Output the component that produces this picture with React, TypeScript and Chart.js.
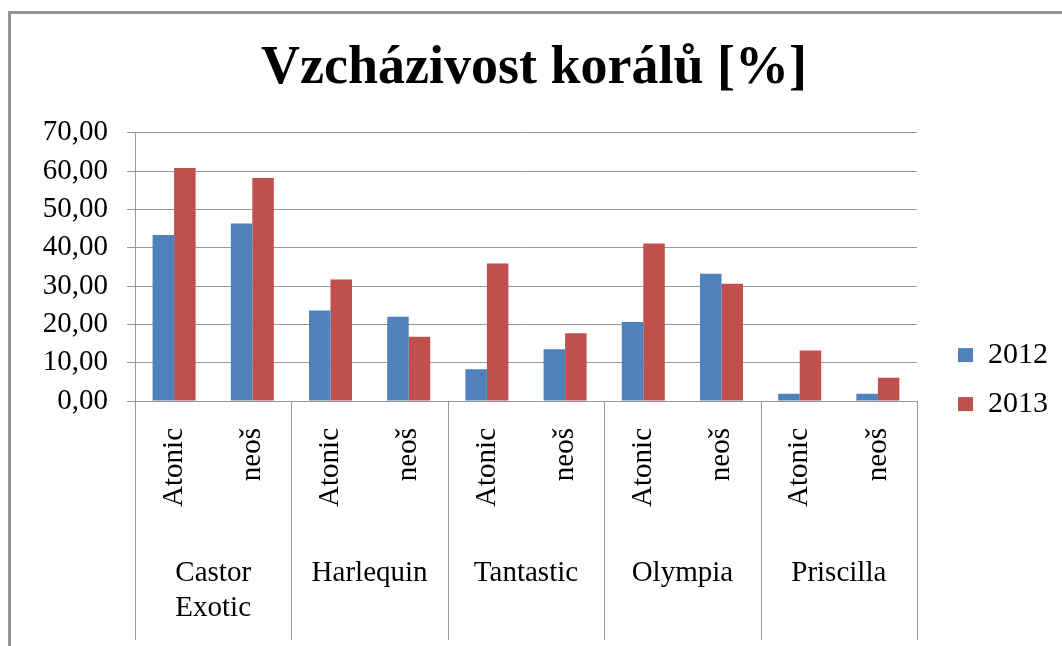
import React, { useEffect, useRef } from 'react';
import { Chart, registerables } from 'chart.js';

Chart.register(...registerables);

const groupLabels: (string | string[])[] = [['Castor', 'Exotic'], 'Harlequin', 'Tantastic', 'Olympia', 'Priscilla'];
const varietyLabels = ['Atonic', 'neoš', 'Atonic', 'neoš', 'Atonic', 'neoš', 'Atonic', 'neoš', 'Atonic', 'neoš'];
const seriesNames = ['2012', '2013'];
const series2012 = [43.3, 46.3, 23.6, 22.0, 8.3, 13.5, 20.6, 33.2, 1.9, 1.9];
const series2013 = [60.8, 58.2, 31.7, 16.8, 35.9, 17.7, 41.1, 30.6, 13.2, 6.1];
const yMin = 0;
const yMax = 70;
const yStep = 10;
const titleText = 'Vzcházivost korálů [%]';

const FONT = '"Liberation Serif", "Times New Roman", serif';
const GRID = '#989898';

// Vertical separators between variety groups, positioned from the x scale.
const groupSeparators = {
  id: 'groupSeparators',
  afterDraw(chart: any) {
    const xs = chart.scales.x;
    const ctx = chart.ctx;
    const n = xs.ticks.length;
    const top = chart.chartArea.bottom;
    const bottom = top + 239;
    ctx.save();
    ctx.strokeStyle = GRID;
    ctx.lineWidth = 1;
    for (let i = 0; i <= n; i += 2) {
      let px: number;
      if (i === 0) px = xs.left;
      else if (i === n) px = xs.right;
      else px = (xs.getPixelForTick(i - 1) + xs.getPixelForTick(i)) / 2;
      px = Math.round(px) + 0.5;
      ctx.beginPath();
      ctx.moveTo(px, top);
      ctx.lineTo(px, bottom);
      ctx.stroke();
    }
    ctx.restore();
  },
};

export default function App() {
  const ref = useRef<HTMLCanvasElement | null>(null);

  useEffect(() => {
    const canvas = ref.current;
    if (!canvas) return;
    const chart = new Chart(canvas, {
      type: 'bar',
      data: {
        labels: varietyLabels,
        datasets: [
          {
            label: seriesNames[0],
            data: series2012,
            backgroundColor: '#4F81BD',
            borderWidth: 0,
            categoryPercentage: 0.55,
            barPercentage: 1.0,
            xAxisID: 'x',
            yAxisID: 'y',
          },
          {
            label: seriesNames[1],
            data: series2013,
            backgroundColor: '#C0504D',
            borderWidth: 0,
            categoryPercentage: 0.55,
            barPercentage: 1.0,
            xAxisID: 'x',
            yAxisID: 'y',
          },
        ],
      },
      options: {
        responsive: false,
        maintainAspectRatio: false,
        animation: false,
        devicePixelRatio: 1,
        layout: { padding: { left: 10, right: 4, top: 0, bottom: 0 } },
        plugins: {
          title: {
            display: true,
            text: titleText,
            color: '#000',
            font: { family: FONT, size: 54, weight: 'bold' },
            padding: { top: 37, bottom: 31 },
          },
          legend: {
            position: 'right',
            align: 'center',
            title: {
              display: true,
              text: '',
              font: { size: 1 },
              padding: { top: 56, bottom: 56 },
            },
            labels: {
              color: '#000',
              font: { family: FONT, size: 30 },
              boxWidth: 15,
              boxHeight: 14,
              padding: 19,
            },
          },
          tooltip: { enabled: false },
        },
        scales: {
          x: {
            type: 'category',
            position: 'bottom',
            weight: 0,
            offset: true,
            grid: { display: false, drawTicks: false },
            border: { display: true, color: GRID },
            ticks: {
              autoSkip: false,
              minRotation: 90,
              maxRotation: 90,
              padding: 27,
              color: '#000',
              font: { family: FONT, size: 29 },
            },
            afterFit: (s: any) => {
              s.height = 120;
            },
          },
          x2: {
            type: 'category',
            position: 'bottom',
            weight: 1,
            offset: true,
            labels: groupLabels as any,
            grid: { display: false, drawTicks: false },
            border: { display: false },
            ticks: {
              autoSkip: false,
              minRotation: 0,
              maxRotation: 0,
              padding: 35,
              color: '#000',
              font: { family: FONT, size: 29 },
            },
            afterFit: (s: any) => {
              s.height = 125;
            },
          },
          y: {
            type: 'linear',
            position: 'left',
            min: yMin,
            max: yMax,
            ticks: {
              stepSize: yStep,
              autoSkip: false,
              padding: 19,
              color: '#000',
              font: { family: FONT, size: 29 },
              callback: (v: any) => Number(v).toFixed(2).replace('.', ','),
            },
            grid: { color: GRID, lineWidth: 1, tickLength: 8 },
            border: { display: true, color: GRID },
            afterFit: (s: any) => {
              s.width = 125;
            },
          },
          yr: {
            type: 'linear',
            position: 'right',
            display: true,
            grid: { display: false, drawTicks: false },
            border: { display: false },
            ticks: { display: false },
            afterFit: (s: any) => {
              s.width = 22;
            },
          },
        },
      },
      plugins: [groupSeparators],
    } as any);
    return () => chart.destroy();
  }, []);

  return (
    <div style={{ position: 'fixed', left: 0, top: 0, width: 1062, height: 646, background: '#fff', overflow: 'hidden' }}>
      <canvas ref={ref} width={1062} height={646} style={{ position: 'absolute', left: 0, top: 0, width: 1062, height: 646 }} />
      <div
        style={{
          position: 'absolute',
          left: 8,
          top: 11,
          width: 1100,
          height: 700,
          borderTop: '3px solid #939393',
          borderLeft: '3px solid #939393',
          pointerEvents: 'none',
        }}
      />
    </div>
  );
}
